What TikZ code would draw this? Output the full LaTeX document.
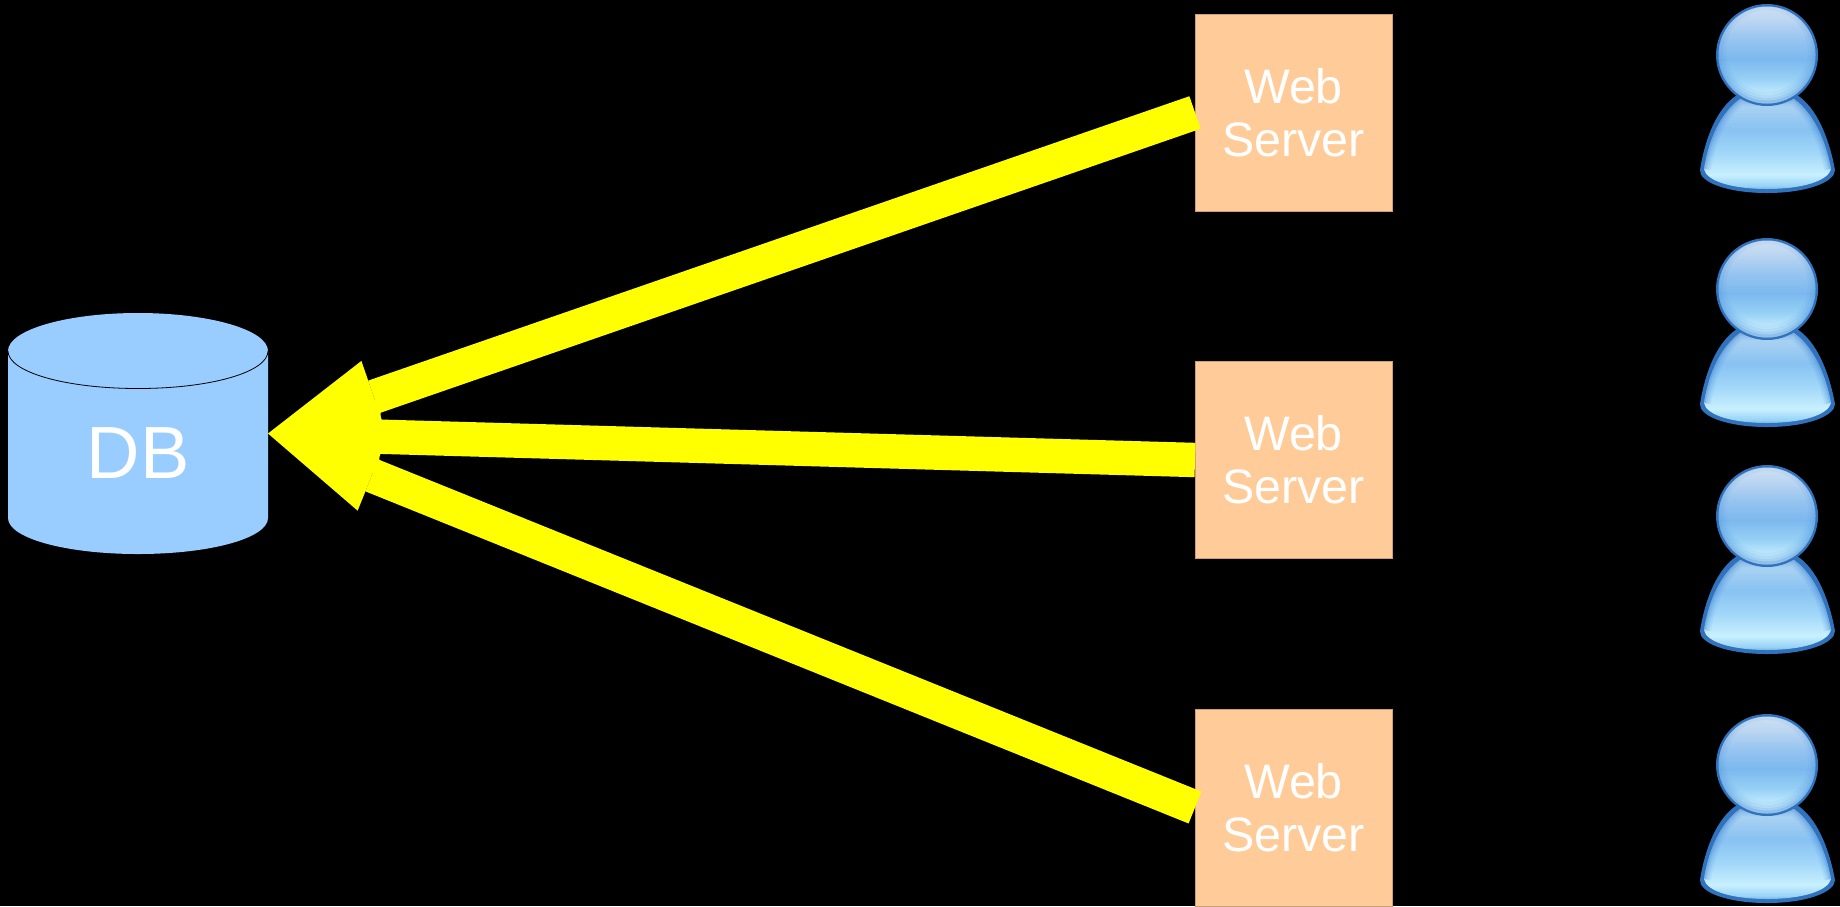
\documentclass[tikz,border=0pt]{standalone}
\usepackage{fontspec}
\setmainfont{Liberation Sans}
\usetikzlibrary{arrows.meta}
\definecolor{dbblue}{HTML}{99CCFF}
\definecolor{wsfill}{HTML}{FFCC99}
\definecolor{wsedge}{HTML}{C9A07A}
\definecolor{flow}{HTML}{FFFF00}
\definecolor{rim}{HTML}{3172BC}
\definecolor{rimlite}{HTML}{4A8EDA}
\pgfdeclareverticalshading{headglow}{100bp}{
  color(0bp)=(rgb,255:red,222;green,248;blue,255);
  color(25bp)=(rgb,255:red,222;green,248;blue,255);
  color(30bp)=(rgb,255:red,196;green,236;blue,253);
  color(38bp)=(rgb,255:red,150;green,208;blue,246);
  color(48bp)=(rgb,255:red,124;green,184;blue,238);
  color(58bp)=(rgb,255:red,150;green,196;blue,240);
  color(68bp)=(rgb,255:red,188;green,214;blue,241);
  color(75bp)=(rgb,255:red,206;green,224;blue,243);
  color(100bp)=(rgb,255:red,206;green,224;blue,243)}
\pgfdeclareverticalshading{bodyglow}{100bp}{
  color(0bp)=(rgb,255:red,96;green,164;blue,226);
  color(25bp)=(rgb,255:red,96;green,164;blue,226);
  color(27bp)=(rgb,255:red,150;green,210;blue,245);
  color(33bp)=(rgb,255:red,200;green,240;blue,255);
  color(45bp)=(rgb,255:red,160;green,214;blue,248);
  color(57bp)=(rgb,255:red,136;green,194;blue,242);
  color(68bp)=(rgb,255:red,166;green,208;blue,242);
  color(75bp)=(rgb,255:red,178;green,214;blue,242);
  color(100bp)=(rgb,255:red,178;green,214;blue,242)}
\tikzset{
  x=0.5pt,y=-0.5pt,
  wsbox/.style={fill=wsfill,draw=wsedge,line width=0.4pt,minimum width=98.5pt,minimum height=98.5pt,inner sep=0pt,outer sep=0pt,text=white,align=center,font=\fontsize{24.2pt}{26.6pt}\selectfont},
  flowarrow/.style={draw=flow,line width=17.2pt,-{Triangle[length=56pt,width=38pt,line width=0pt,fill=flow]}},
  dblabel/.style={text=white,inner sep=0pt,font=\fontsize{37pt}{40pt}\selectfont},
  person/.pic={
    % body
    \fill[rim] (-67,116) .. controls (-62,84) and (-50,54) .. (-30,41) -- (30,41) .. controls (50,54) and (62,84) .. (68,116) .. controls (68,128) and (40,139) .. (0,139) .. controls (-40,139) and (-68,128) .. (-67,116) -- cycle;
    \begin{scope}
      \clip (-63,115) .. controls (-58,84) and (-46,59) .. (-27,45) -- (27,45) .. controls (46,59) and (58,84) .. (64,115) .. controls (61,127) and (35,135) .. (0,135) .. controls (-35,135) and (-61,127) .. (-63,115) -- cycle;
      \shade[shading=bodyglow] (-70,41) rectangle (70,136);
      \foreach \w/\o in {7pt/.1,5pt/.14,3pt/.18,1.5pt/.28}
        \draw[rimlite,opacity=\o,line width=\w] (-63,115) .. controls (-58,84) and (-46,59) .. (-27,45) -- (27,45) .. controls (46,59) and (58,84) .. (64,115);
    \end{scope}
    % head
    \fill[rim] (0,1) circle[radius=51];
    \begin{scope}
      \clip (0,1) circle[radius=48.5];
      \shade[shading=headglow] (-50,-48) rectangle (50,50);
      \foreach \w/\o in {11pt/.08,8pt/.12,5pt/.16,2.5pt/.26}
        \draw[rimlite,opacity=\o,line width=\w] (0,-3) circle[radius=52];
    \end{scope}
  }
}
\begin{document}
\begin{tikzpicture}
\useasboundingbox (0,0) rectangle (1840,906);
\fill[black] (0,0) rectangle (1840,906);
% database
\node[minimum width=130pt,minimum height=120.5pt,inner sep=0pt,outer sep=0pt] (db) at (138,433.5) {};
\fill[dbblue] (8,351) -- (8,518) .. controls (8,538) and (65,554) .. (138,554) .. controls (211,554) and (268,538) .. (268,518) -- (268,351) -- cycle;
\fill[dbblue] (138,351) ellipse[x radius=130,y radius=38];
\draw[black,line width=0.4pt] (8,351) .. controls (8,372) and (65,388.5) .. (138,388.5) .. controls (211,388.5) and (268,372) .. (268,351);
\node[dblabel,anchor=base] (dbtext) at (138,478) {DB};
% web servers
\node[wsbox] (ws1) at (1293.5,112.5) {Web\\Server};
\node[wsbox] (ws2) at (1293.5,460) {Web\\Server};
\node[wsbox] (ws3) at (1293.5,807.5) {Web\\Server};
% connectors
\draw[flowarrow] (ws1.west) -- (db.east);
\draw[flowarrow] (ws2.west) -- (db.east);
\draw[flowarrow] (ws3.west) -- (db.east);
% users
\pic at (1767,54) {person};
\pic at (1767,288) {person};
\pic at (1767,515) {person};
\pic at (1767,764) {person};
\end{tikzpicture}
\end{document}
